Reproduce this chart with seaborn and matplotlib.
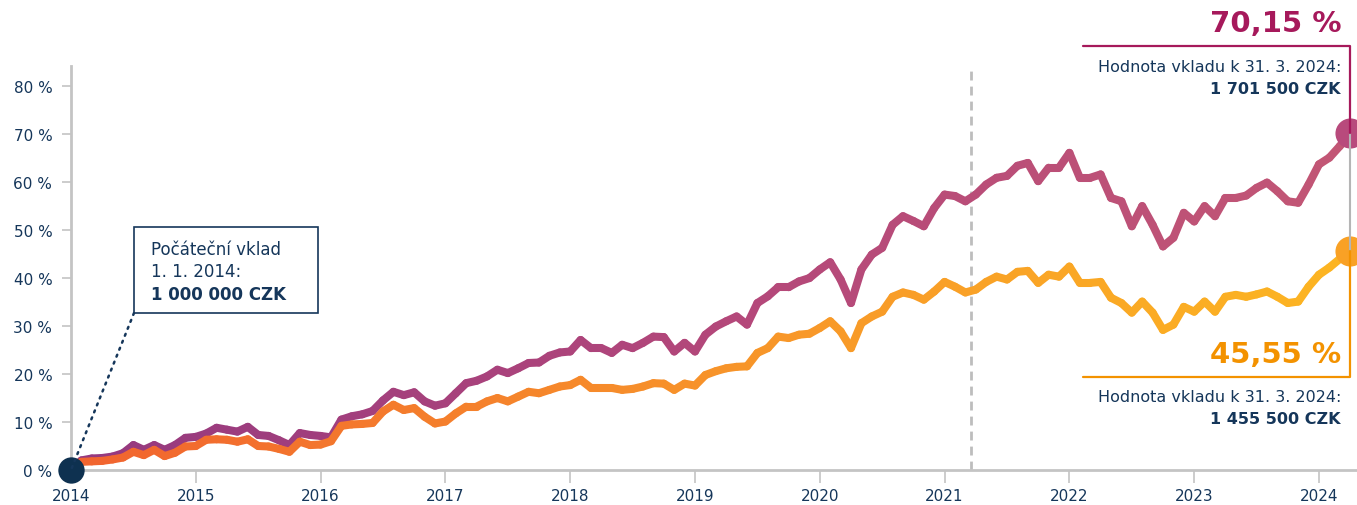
import numpy as np
import pandas as pd
import matplotlib
matplotlib.use("Agg")
import matplotlib.pyplot as plt
import seaborn as sns
from matplotlib.collections import LineCollection
from matplotlib.colors import LinearSegmentedColormap
from matplotlib.patches import Rectangle
from matplotlib.lines import Line2D

# ---------------- data ----------------
start_year = 2014
purple_values = [
    0, 2.0, 2.4, 2.5, 2.8, 3.5, 5.2, 4.2, 5.2, 4.2, 5.2, 6.7,
    6.9, 7.6, 8.8, 8.4, 8.0, 9.0, 7.3, 7.1, 6.2, 5.2, 7.7, 7.3,
    7.1, 6.8, 10.5, 11.2, 11.6, 12.3, 14.5, 16.3, 15.6, 16.2, 14.3, 13.4,
    13.9, 16.0, 18.1, 18.6, 19.5, 20.9, 20.2, 21.2, 22.3, 22.4, 23.8, 24.5,
    24.7, 27.1, 25.4, 25.4, 24.4, 26.1, 25.4, 26.5, 27.8, 27.7, 24.7, 26.5,
    24.7, 28.2, 29.9, 31.0, 32.0, 30.3, 34.8, 36.2, 38.1, 38.1, 39.3, 40.0,
    41.8, 43.3, 39.7, 34.8, 41.8, 44.9, 46.3, 51.1, 52.9, 51.9, 50.8, 54.6,
    57.4, 57.1, 56.0, 57.4, 59.5, 60.9, 61.3, 63.4, 64.0, 60.2, 63.0, 63.0,
    66.1, 60.9, 60.9, 61.6, 56.7, 56.0, 50.8, 55.0, 51.1, 46.6, 48.4, 53.6,
    51.8, 55.0, 52.9, 56.7, 56.7, 57.2, 58.8, 59.9, 58.1, 56.0, 55.7, 59.5,
    63.7, 65.1, 67.5, 70.15,
]
orange_values = [
    0, 1.7, 1.8, 1.9, 2.2, 2.6, 3.8, 3.1, 4.2, 2.9, 3.6, 4.9,
    5.0, 6.3, 6.4, 6.3, 5.9, 6.4, 5.0, 4.9, 4.4, 3.8, 5.9, 5.2,
    5.3, 6.0, 9.2, 9.5, 9.6, 9.8, 12.2, 13.6, 12.5, 12.9, 11.1, 9.7,
    10.1, 11.8, 13.2, 13.2, 14.3, 15.0, 14.3, 15.3, 16.3, 16.0, 16.7, 17.4,
    17.7, 18.8, 17.1, 17.1, 17.1, 16.7, 16.9, 17.4, 18.1, 18.0, 16.7, 18.0,
    17.6, 19.8, 20.6, 21.2, 21.5, 21.6, 24.4, 25.4, 27.8, 27.5, 28.2, 28.4,
    29.6, 31.0, 28.9, 25.4, 30.6, 32.0, 33.0, 36.1, 37.0, 36.5, 35.5, 37.2,
    39.2, 38.2, 37.0, 37.6, 39.2, 40.3, 39.7, 41.3, 41.5, 39.0, 40.7, 40.3,
    42.4, 39.0, 39.0, 39.2, 35.9, 34.8, 32.8, 35.1, 32.8, 29.2, 30.3, 34.0,
    33.0, 35.1, 33.0, 36.1, 36.5, 36.1, 36.6, 37.2, 36.1, 34.8, 35.1, 38.2,
    40.7, 42.2, 44.0, 45.55,
]
year_ticks = list(range(2014, 2025))
year_labels = [str(y) for y in year_ticks]
y_ticks = [0, 10, 20, 30, 40, 50, 60, 70, 80]
y_tick_labels = ["0 %", "10 %", "20 %", "30 %", "40 %", "50 %", "60 %", "70 %", "80 %"]
split_time = 2021.21

start_box_lines = ["Počáteční vklad", "1. 1. 2014:", "1 000 000 CZK"]
purple_pct_label = "70,15 %"
purple_caption = "Hodnota vkladu k 31. 3. 2024:"
purple_amount = "1 701 500 CZK"
orange_pct_label = "45,55 %"
orange_caption = "Hodnota vkladu k 31. 3. 2024:"
orange_amount = "1 455 500 CZK"

# ---------------- style ----------------
W, H = 1357, 506
NAVY = "#15365a"
GRAY = "#c4c4c4"
MAGENTA = "#a6195b"
ORANGE_TXT = "#f39200"
purple_cmap = LinearSegmentedColormap.from_list("pur", ["#95397f", "#b3477a", "#c25675"])
orange_cmap = LinearSegmentedColormap.from_list("org", ["#f1632f", "#f7932a", "#fcb522"])

sns.set_theme(style="white")
plt.rcParams["font.family"] = ["DejaVu Sans"]

n = len(purple_values)
t = start_year + np.arange(n) / 12.0
df = pd.DataFrame({"t": t, "purple": purple_values, "orange": orange_values})

fig = plt.figure(figsize=(W / 100, H / 100), dpi=100)
ax = fig.add_axes([71 / W, 1 - 471 / H, 1 - 71 / W, 404 / H])

LW = 5.8
sns.lineplot(data=df, x="t", y="purple", ax=ax, color="#b3477a", linewidth=LW, zorder=3)
sns.lineplot(data=df, x="t", y="orange", ax=ax, color="#f7932a", linewidth=LW, zorder=4)


def gradient_overlay(line, cmap, z):
    xy = line.get_xydata()
    segs = np.stack([xy[:-1], xy[1:]], axis=1)
    lc = LineCollection(segs, cmap=cmap, linewidths=LW, capstyle="round",
                        joinstyle="round", zorder=z)
    lc.set_array(np.linspace(0, 1, len(segs)))
    lc.set_clip_on(False)
    ax.add_collection(lc)
    line.set_visible(False)


gradient_overlay(ax.lines[0], purple_cmap, 3)
gradient_overlay(ax.lines[1], orange_cmap, 4)

ax.set_xlim(2014, 2014 + (W - 71) / 124.8)
ax.set_ylim(0, 84.2)
ax.set_xticks(year_ticks)
ax.set_xticklabels(year_labels)
ax.set_yticks(y_ticks)
ax.set_yticklabels(y_tick_labels)
ax.set_xlabel("")
ax.set_ylabel("")
for s in ["top", "right"]:
    ax.spines[s].set_visible(False)
for s in ["left", "bottom"]:
    ax.spines[s].set_color(GRAY)
    ax.spines[s].set_linewidth(2)
ax.tick_params(axis="y", length=6.5, width=1.2, color=GRAY, pad=7,
               labelsize=11, labelcolor=NAVY, left=True)
ax.tick_params(axis="x", length=9, width=1.2, color=GRAY, pad=4,
               labelsize=11, labelcolor=NAVY, bottom=True)
ax.grid(False)

# dashed reference line
ax.axvline(split_time, color="#bdbdbd", lw=2, dashes=(3.2, 2.2), zorder=2)

# end points
t_end = t[-1]
p_end = purple_values[-1]
o_end = orange_values[-1]

to_fig = lambda x, y: fig.transFigure.inverted().transform(ax.transData.transform((x, y)))
px = lambda x, y: (x / W, 1 - y / H)

pe = to_fig(t_end, p_end)
oe = to_fig(t_end, o_end)
se = to_fig(2014, 0)

# connector lines on the right
fig.add_artist(Line2D([pe[0], oe[0]], [pe[1], oe[1]], color="#b5b5b5", lw=1.5, zorder=1))
fig.add_artist(Line2D([1083 / W, pe[0], pe[0]], [1 - 47 / H, 1 - 47 / H, pe[1]],
                      color=MAGENTA, lw=1.6, zorder=1))
fig.add_artist(Line2D([1083 / W, oe[0], oe[0]], [1 - 378 / H, 1 - 378 / H, oe[1]],
                      color=ORANGE_TXT, lw=1.6, zorder=1))

ax.scatter([t_end], [p_end], s=470, color="#b84a7c", zorder=6, clip_on=False, linewidths=0)
ax.scatter([t_end], [o_end], s=470, color="#f9a125", zorder=6, clip_on=False, linewidths=0)
ax.scatter([2014], [0], s=360, color="#0e3150", zorder=7, clip_on=False, linewidths=0)

# start annotation box
fig.add_artist(Line2D([134 / W, se[0]], [1 - 314 / H, se[1]], color=NAVY, lw=1.8,
                      linestyle=(0, (0.8, 2.2)), dash_capstyle="round", zorder=1))
fig.add_artist(Rectangle((134 / W, 1 - 314 / H), 184 / W, 86 / H, transform=fig.transFigure,
                         facecolor="white", edgecolor=NAVY, lw=1.2, zorder=2))
for txt, yy, wgt in zip(start_box_lines, [250, 272, 295], ["normal", "normal", "bold"]):
    fig.text(*px(151, yy), txt, ha="left", va="center", fontsize=12, color=NAVY,
             fontweight=wgt, zorder=3)

# right annotations
RX = 1341
fig.text(*px(RX, 24), purple_pct_label, ha="right", va="center", fontsize=21,
         fontweight="bold", color=MAGENTA)
fig.text(*px(RX, 68), purple_caption, ha="right", va="center", fontsize=11.5, color=NAVY)
fig.text(*px(RX, 90), purple_amount, ha="right", va="center", fontsize=11.5,
         fontweight="bold", color=NAVY)
fig.text(*px(RX, 355), orange_pct_label, ha="right", va="center", fontsize=21,
         fontweight="bold", color=ORANGE_TXT)
fig.text(*px(RX, 397), orange_caption, ha="right", va="center", fontsize=11.5, color=NAVY)
fig.text(*px(RX, 420), orange_amount, ha="right", va="center", fontsize=11.5,
         fontweight="bold", color=NAVY)

fig.savefig("out.png", dpi=100, facecolor="white")
